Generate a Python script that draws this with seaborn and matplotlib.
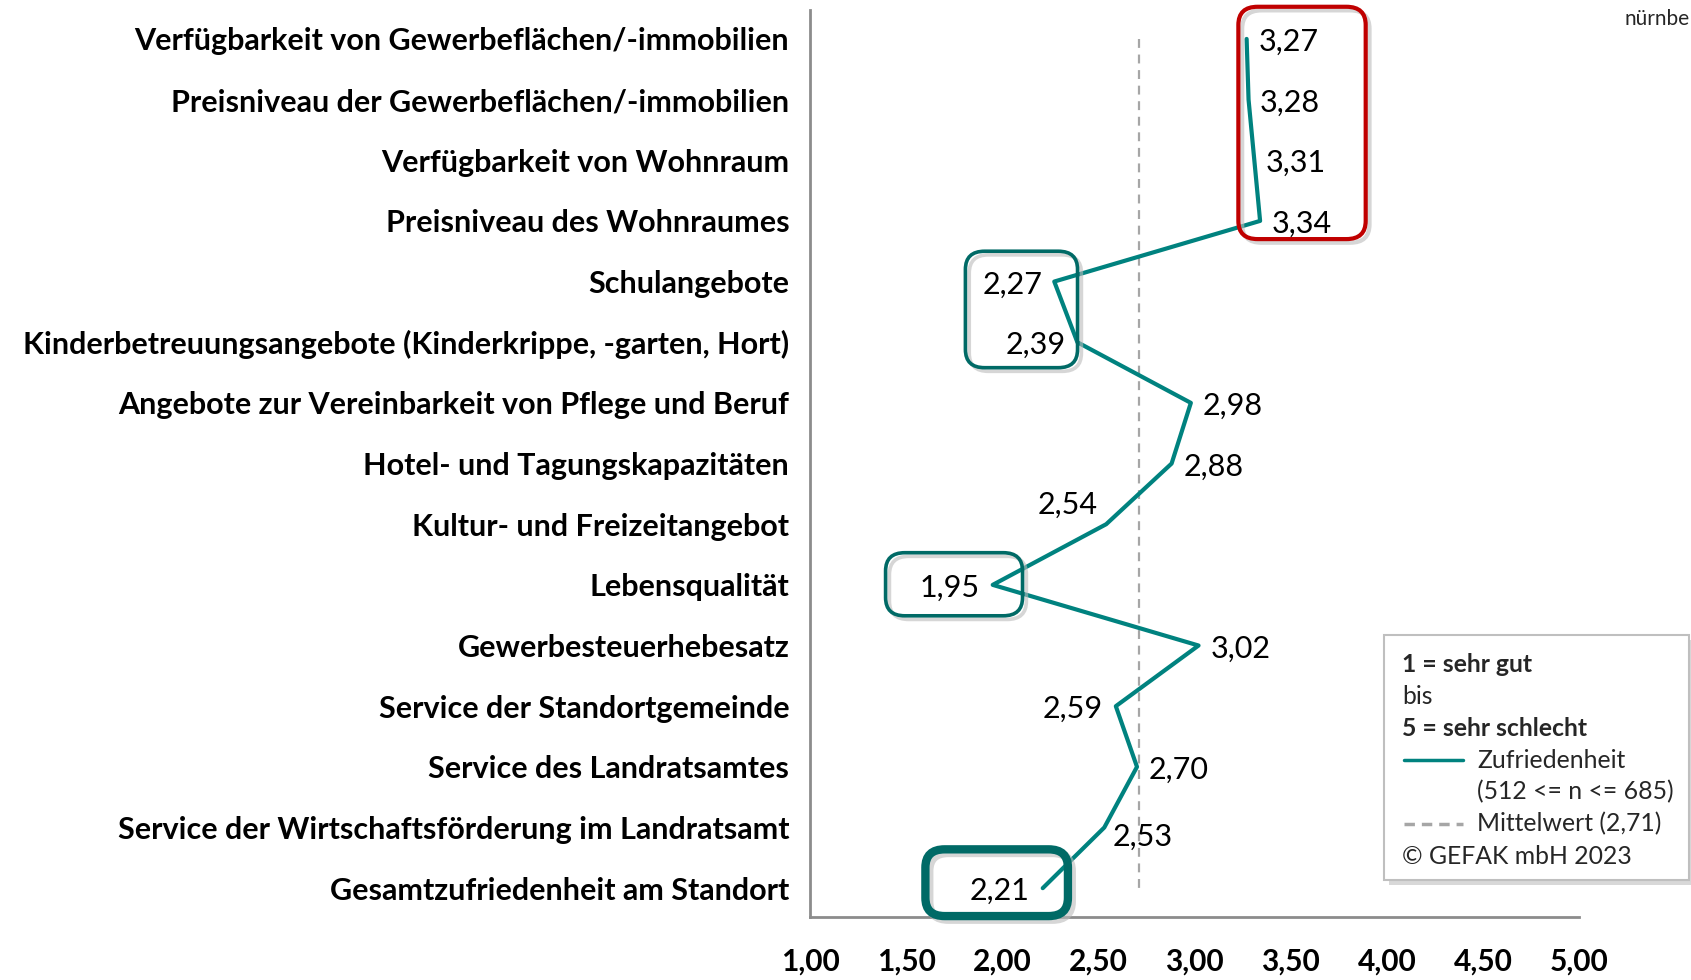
import numpy as np
import pandas as pd
import matplotlib
matplotlib.use("Agg")
import matplotlib.pyplot as plt
from matplotlib.patches import FancyBboxPatch, Rectangle
from matplotlib.lines import Line2D
import seaborn as sns

# Daten
kategorien = [
    "Verfügbarkeit von Gewerbeflächen/-immobilien",
    "Preisniveau der Gewerbeflächen/-immobilien",
    "Verfügbarkeit von Wohnraum",
    "Preisniveau des Wohnraumes",
    "Schulangebote",
    "Kinderbetreuungsangebote (Kinderkrippe, -garten, Hort)",
    "Angebote zur Vereinbarkeit von Pflege und Beruf",
    "Hotel- und Tagungskapazitäten",
    "Kultur- und Freizeitangebot",
    "Lebensqualität",
    "Gewerbesteuerhebesatz",
    "Service der Standortgemeinde",
    "Service des Landratsamtes",
    "Service der Wirtschaftsförderung im Landratsamt",
    "Gesamtzufriedenheit am Standort",
]
zufriedenheit = [3.27, 3.28, 3.31, 3.34, 2.27, 2.39, 2.98, 2.88, 2.54, 1.95,
                 3.02, 2.59, 2.70, 2.53, 2.21]
mittelwert = 2.71
x_ticks = [1.0, 1.5, 2.0, 2.5, 3.0, 3.5, 4.0, 4.5, 5.0]

df = pd.DataFrame({"kategorie": kategorien, "wert": zufriedenheit,
                   "pos": np.arange(len(kategorien))})

sns.set_theme(style="white")
plt.rcParams["font.family"] = ["Lato", "DejaVu Sans"]

TEAL = "#00827f"
TEAL_DARK = "#006a66"
RED = "#c00000"
GRAU = "#8c8c8c"

fig = plt.figure(figsize=(16.91, 9.80), dpi=100)
ax = fig.add_axes([0.479, 0.064, 0.455, 0.926])

# Mittelwert-Linie
sns.lineplot(x=[mittelwert, mittelwert], y=[0, len(kategorien) - 1], ax=ax,
             color="#a6a6a6", linewidth=1.6, linestyle=(0, (4, 3)),
             orient="y", estimator=None, legend=False)

# Zufriedenheitslinie
sns.lineplot(data=df, x="wert", y="pos", ax=ax, color=TEAL, linewidth=3,
             orient="y", estimator=None, sort=False, legend=False)

# Werte beschriften (Versatz in Punkten)
versatz = {4: (-30, -2), 5: (-30, -2), 8: (-28, 14), 9: (-31, -2),
           11: (-31, -2), 13: (28, -7), 14: (-31, -2)}
for i, w in enumerate(zufriedenheit):
    dx, dy = versatz.get(i, (30, -2))
    ax.annotate(f"{w:.2f}".replace(".", ","), (w, i), xytext=(dx, dy),
                textcoords="offset points", ha="center", va="center",
                fontsize=22, color="black")

# Markierungsrahmen
rahmen = [
    (3.227, -0.53, 3.889, 3.30, RED, 3.0),
    (1.808, 3.50, 2.391, 5.42, TEAL_DARK, 2.6),
    (1.393, 8.47, 2.105, 9.51, TEAL_DARK, 2.6),
    (1.600, 13.36, 2.341, 14.46, TEAL_DARK, 6.0),
]
for x0, y0, x1, y1, farbe, lw in rahmen:
    schatten = FancyBboxPatch((x0 + 0.02, y0 + 0.06), x1 - x0, y1 - y0,
                              boxstyle="round,pad=0,rounding_size=0.1",
                              mutation_aspect=3.0, facecolor="none",
                              edgecolor="#bbbbbb", linewidth=lw, alpha=0.6,
                              zorder=4, clip_on=False)
    ax.add_patch(schatten)
    box = FancyBboxPatch((x0, y0), x1 - x0, y1 - y0,
                         boxstyle="round,pad=0,rounding_size=0.1",
                         mutation_aspect=3.0, facecolor="none",
                         edgecolor=farbe, linewidth=lw, zorder=5, clip_on=False)
    ax.add_patch(box)

ax.set_xlim(1, 5)
ax.set_ylim(len(kategorien) - 0.52, -0.48)
ax.set_xticks(x_ticks)
ax.set_xticklabels([f"{t:.2f}".replace(".", ",") for t in x_ticks],
                   fontsize=21.5, fontweight="bold")
ax.set_yticks(df["pos"])
ax.set_yticklabels(kategorien, fontsize=22, fontweight="bold")
ax.set_xlabel("")
ax.set_ylabel("")
for s in ["top", "right"]:
    ax.spines[s].set_visible(False)
for s in ["left", "bottom"]:
    ax.spines[s].set_color(GRAU)
    ax.spines[s].set_linewidth(2)
ax.tick_params(axis="x", direction="out", length=8, width=2, color=GRAU,
               pad=14, labelcolor="black")
ax.tick_params(axis="y", length=0, pad=15, labelcolor="black")
ax.grid(False)

# Legendenkasten
lx0, ly0, lx1, ly1 = 1384 / 1691, 1 - 880 / 980, 1689 / 1691, 1 - 635 / 980
fig.patches.append(Rectangle((lx0 + 0.003, ly0 - 0.005), lx1 - lx0, ly1 - ly0,
                             transform=fig.transFigure, facecolor="#c8c8c8",
                             edgecolor="none", alpha=0.7, zorder=1))
fig.patches.append(Rectangle((lx0, ly0), lx1 - lx0, ly1 - ly0,
                             transform=fig.transFigure, facecolor="white",
                             edgecolor="#bfbfbf", linewidth=1.5, zorder=2))
tx = 1402 / 1691
zeilen_y = [664, 696, 728, 760, 792, 824, 856]
fs = 17.8
fig.text(tx, 1 - zeilen_y[0] / 980, "1 = sehr gut", fontsize=fs,
         fontweight="bold", va="center", zorder=3)
fig.text(tx, 1 - zeilen_y[1] / 980, "bis", fontsize=fs, va="center", zorder=3)
fig.text(tx, 1 - zeilen_y[2] / 980, "5 = sehr schlecht", fontsize=fs,
         fontweight="bold", va="center", zorder=3)
tx2 = 1477 / 1691
fig.lines.append(Line2D([1404 / 1691, 1463 / 1691], [1 - zeilen_y[3] / 980] * 2,
                        transform=fig.transFigure, color=TEAL, linewidth=2.5,
                        zorder=3))
fig.text(tx2, 1 - zeilen_y[3] / 980, "Zufriedenheit", fontsize=fs,
         va="center", zorder=3)
fig.text(tx2, 1 - zeilen_y[4] / 980, "(512 <= n <= 685)", fontsize=fs,
         va="center", zorder=3)
fig.lines.append(Line2D([1404 / 1691, 1463 / 1691], [1 - zeilen_y[5] / 980] * 2,
                        transform=fig.transFigure, color="#a6a6a6",
                        linewidth=2.5, linestyle=(0, (3, 2)), zorder=3))
fig.text(tx2, 1 - zeilen_y[5] / 980, "Mittelwert (2,71)", fontsize=fs,
         va="center", zorder=3)
fig.text(tx, 1 - zeilen_y[6] / 980, "© GEFAK mbH 2023", fontsize=fs,
         va="center", zorder=3)

fig.text(1625 / 1691, 1 - 19 / 980, "nürnbe", fontsize=15, va="center")

fig.savefig("out.png", dpi=100, facecolor="white")
